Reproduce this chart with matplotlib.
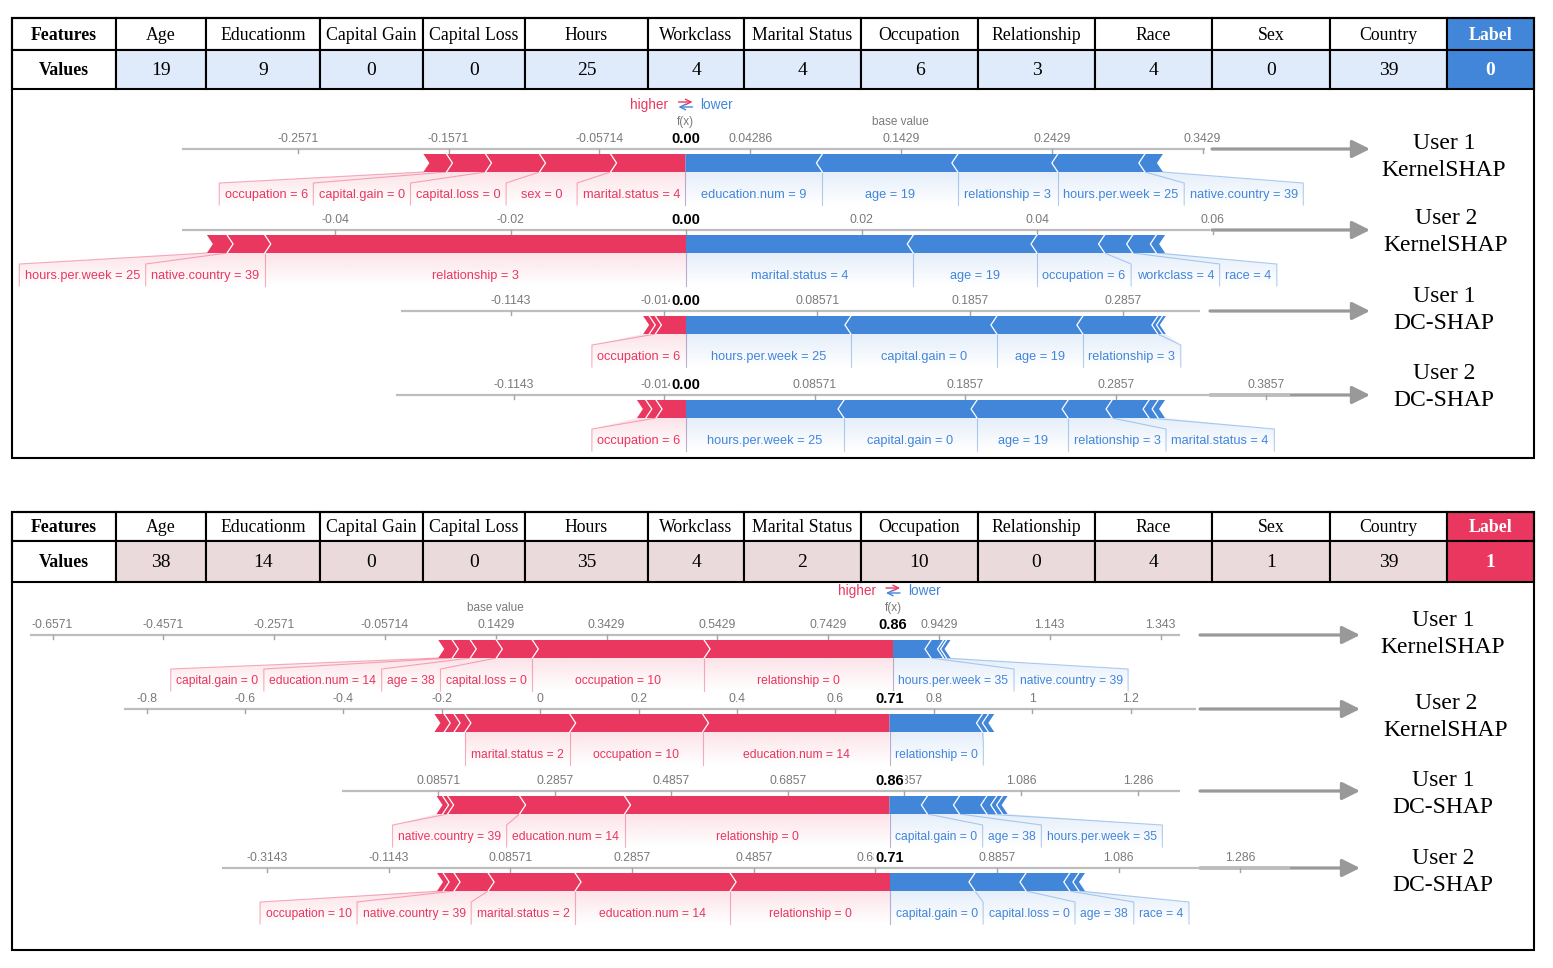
import numpy as np
import matplotlib
matplotlib.use('Agg')
import matplotlib.pyplot as plt
from matplotlib.patches import Polygon, Rectangle
from matplotlib.colors import to_rgb

W, H = 1553, 968
RED = '#e9375f'
BLUE = '#4286da'
SANS = 'Liberation Sans'
SERIF = 'Liberation Serif'

# ---------------- tables ----------------
features = ['Age', 'Educationm', 'Capital Gain', 'Capital Loss', 'Hours', 'Workclass',
            'Marital Status', 'Occupation', 'Relationship', 'Race', 'Sex', 'Country']
top_values = [19, 9, 0, 0, 25, 4, 4, 6, 3, 4, 0, 39]
top_label = 0
bottom_values = [38, 14, 0, 0, 35, 4, 2, 10, 0, 4, 1, 39]
bottom_label = 1

# ---------------- force plots ----------------
# (feature text, |shap value|), ordered from f(x) outwards; None = unlabelled sliver
a_u1_ks_fx = 0.00
a_u1_ks_red = [('marital.status = 4', 0.0497), ('sex = 0', 0.0471), ('capital.loss = 0', 0.0358),
               ('capital.gain = 0', 0.0259), ('occupation = 6', 0.0153)]
a_u1_ks_blue = [('education.num = 9', 0.0908), ('age = 19', 0.0898), ('relationship = 3', 0.0663),
                ('hours.per.week = 25', 0.0577), ('native.country = 39', 0.0120)]
a_u1_ks_ticks = ['-0.2571', '-0.1571', '-0.05714', '0.04286', '0.1429', '0.2429', '0.3429']

a_u2_ks_fx = 0.00
a_u2_ks_red = [('relationship = 3', 0.0480), ('native.country = 39', 0.0043), ('hours.per.week = 25', 0.0023)]
a_u2_ks_blue = [('marital.status = 4', 0.0259), ('age = 19', 0.0141), ('occupation = 6', 0.0077),
                ('workclass = 4', 0.0032), ('race = 4', 0.0027), (None, 0.0010)]
a_u2_ks_ticks = ['-0.04', '-0.02', '0', '0.02', '0.04', '0.06']

a_u1_dc_fx = 0.00
a_u1_dc_red = [('occupation = 6', 0.0200), (None, 0.0040), (None, 0.0040)]
a_u1_dc_blue = [('hours.per.week = 25', 0.1078), ('capital.gain = 0', 0.0954), ('age = 19', 0.0562),
                ('relationship = 3', 0.0490), (None, 0.0030), (None, 0.0022)]
a_u1_dc_ticks = ['-0.1143', '-0.01429', '0.08571', '0.1857', '0.2857']

a_u2_dc_fx = 0.00
a_u2_dc_red = [('occupation = 6', 0.0199), (None, 0.0068), (None, 0.0059)]
a_u2_dc_blue = [('hours.per.week = 25', 0.1050), ('capital.gain = 0', 0.0884), ('age = 19', 0.0605),
                ('relationship = 3', 0.0292), ('marital.status = 4', 0.0246), (None, 0.0060), (None, 0.0046)]
a_u2_dc_ticks = ['-0.1143', '-0.01429', '0.08571', '0.1857', '0.2857', '0.3857']

b_u1_ks_fx = 0.86
b_u1_ks_red = [('relationship = 0', 0.341), ('occupation = 10', 0.310), ('capital.loss = 0', 0.065),
               ('age = 38', 0.047), ('education.num = 14', 0.0325), ('capital.gain = 0', 0.0253)]
b_u1_ks_blue = [('hours.per.week = 35', 0.0686), ('native.country = 39', 0.0226), (None, 0.0054), (None, 0.0072)]
b_u1_ks_ticks = ['-0.6571', '-0.4571', '-0.2571', '-0.05714', '0.1429', '0.3429', '0.5429',
                 '0.7429', '0.9429', '1.143', '1.343']

b_u2_ks_fx = 0.71
b_u2_ks_red = [('education.num = 14', 0.380), ('occupation = 10', 0.270), ('marital.status = 2', 0.213),
               (None, 0.022), (None, 0.020), (None, 0.020)]
b_u2_ks_blue = [('relationship = 0', 0.189), (None, 0.012), (None, 0.012)]
b_u2_ks_ticks = ['-0.8', '-0.6', '-0.4', '-0.2', '0', '0.2', '0.4', '0.6', '0.8', '1', '1.2']

b_u1_dc_fx = 0.86
b_u1_dc_red = [('relationship = 0', 0.4545), ('education.num = 14', 0.180), ('native.country = 39', 0.1235),
               (None, 0.0086), (None, 0.0103)]
b_u1_dc_blue = [('capital.gain = 0', 0.065), ('age = 38', 0.055), ('hours.per.week = 35', 0.047),
                (None, 0.017), (None, 0.010), (None, 0.0086)]
b_u1_dc_ticks = ['0.08571', '0.2857', '0.4857', '0.6857', '0.8857', '1.086', '1.286']

b_u2_dc_fx = 0.71
b_u2_dc_red = [('relationship = 0', 0.263), ('education.num = 14', 0.255), ('marital.status = 2', 0.143),
               ('native.country = 39', 0.056), ('occupation = 10', 0.018), (None, 0.010)]
b_u2_dc_blue = [('capital.gain = 0', 0.1397), ('capital.loss = 0', 0.084), ('age = 38', 0.072),
                ('race = 4', 0.015), (None, 0.010)]
b_u2_dc_ticks = ['-0.3143', '-0.1143', '0.08571', '0.2857', '0.4857', '0.6857', '0.8857', '1.086', '1.286']

# layout: axis y, pixel of f(x), pixels per unit, axis line px, arrow px, caption, label size
plots = [
    dict(fx=a_u1_ks_fx, red=a_u1_ks_red, blue=a_u1_ks_blue, ticks=a_u1_ks_ticks, y=149, px=685.5, k=1508,
         line=(182, 1205), arrow=(1212, 1370), title='User 1\nKernelSHAP', tx=1444, ty=157, head=True, fs=9.2),
    dict(fx=a_u2_ks_fx, red=a_u2_ks_red, blue=a_u2_ks_blue, ticks=a_u2_ks_ticks, y=230, px=686, k=8775,
         line=(182, 1210), arrow=(1212, 1370), title='User 2\nKernelSHAP', tx=1446, ty=232, head=False, fs=9.2),
    dict(fx=a_u1_dc_fx, red=a_u1_dc_red, blue=a_u1_dc_blue, ticks=a_u1_dc_ticks, y=311, px=686, k=1530,
         line=(401, 1200), arrow=(1210, 1370), title='User 1\nDC-SHAP', tx=1444, ty=310, head=False, fs=9.2),
    dict(fx=a_u2_dc_fx, red=a_u2_dc_red, blue=a_u2_dc_blue, ticks=a_u2_dc_ticks, y=395, px=686, k=1505,
         line=(396, 1290), arrow=(1210, 1370), title='User 2\nDC-SHAP', tx=1444, ty=387, head=False, fs=9.2),
    dict(fx=b_u1_ks_fx, red=b_u1_ks_red, blue=b_u1_ks_blue, ticks=b_u1_ks_ticks, y=635, px=893, k=554,
         line=(30, 1180), arrow=(1200, 1360), title='User 1\nKernelSHAP', tx=1443, ty=634, head=True, fs=8.7),
    dict(fx=b_u2_ks_fx, red=b_u2_ks_red, blue=b_u2_ks_blue, ticks=b_u2_ks_ticks, y=709, px=889.5, k=492,
         line=(124, 1196), arrow=(1200, 1360), title='User 2\nKernelSHAP', tx=1446, ty=717, head=False, fs=8.7),
    dict(fx=b_u1_dc_fx, red=b_u1_dc_red, blue=b_u1_dc_blue, ticks=b_u1_dc_ticks, y=791, px=889.5, k=583,
         line=(342, 1180), arrow=(1200, 1360), title='User 1\nDC-SHAP', tx=1443, ty=794, head=False, fs=8.7),
    dict(fx=b_u2_dc_fx, red=b_u2_dc_red, blue=b_u2_dc_blue, ticks=b_u2_dc_ticks, y=868, px=890, k=608,
         line=(222, 1290), arrow=(1200, 1360), title='User 2\nDC-SHAP', tx=1443, ty=872, head=False, fs=8.7),
]

col_edges = [12, 116, 206, 320, 423, 525, 648, 744, 861, 978, 1095, 1212, 1330, 1447, 1534]

fig = plt.figure(figsize=(W / 100, H / 100), dpi=100)
renderer = fig.canvas.get_renderer()
ov = fig.add_axes([0, 0, 1, 1])
ov.set_xlim(0, W)
ov.set_ylim(H, 0)
ov.axis('off')


def text_w(ax, s, size, weight='normal'):
    t = ax.text(0, 0, s, fontsize=size, family=SANS, weight=weight)
    w = t.get_window_extent(renderer).width
    t.remove()
    return w


def grad_patch(ax, verts, color, ytop, ybot, xa, xb, a0=0.14):
    poly = Polygon(verts, closed=True, fc='none', ec='none')
    ax.add_patch(poly)
    n = 60
    img = np.zeros((n, 2, 4))
    img[..., :3] = to_rgb(color)
    img[..., 3] = np.linspace(a0, 0, n)[:, None]
    im = ax.imshow(img, extent=(min(xa, xb), max(xa, xb), ybot, ytop), origin='upper',
                   aspect='auto', interpolation='bilinear', zorder=1)
    im.set_clip_path(poly)


def draw_side(ax, fx, feats, s, y, k, color, fs):
    y0, y1 = y + 5, y + 23
    ym = (y0 + y1) / 2
    t = 6 / k
    cum = 0
    spans = []
    for i, (name, v) in enumerate(feats):
        near, far = fx + s * cum, fx + s * (cum + v)
        tip = 0 if i == 0 else t
        ax.add_patch(Polygon([(far, y0), (near, y0), (near - s * tip, ym), (near, y1),
                              (far, y1), (far - s * t, ym)], closed=True, fc=color, ec='none', zorder=2))
        if i > 0:
            ax.plot([near, near - s * t, near], [y0, ym, y1], color='white', lw=0.9, zorder=3)
        spans.append((name, v, far))
        cum += v
    total_far = fx + s * cum

    prev = fx
    ax.plot([fx, fx], [y1, y1 + 33], color=color, alpha=0.3, lw=0.8, zorder=2)
    for name, v, far in spans:
        if name is None:
            continue
        width = max(v, (text_w(ax, name, fs) + 11) / k)
        reg = prev + s * width
        ax.plot([far, reg, reg], [y1, y1 + 11, y1 + 33], color=color, alpha=0.4, lw=0.8, zorder=2)
        ax.text(prev + s * width / 2, y1 + 23, name, color=color, fontsize=fs, family=SANS,
                ha='center', va='center', zorder=4)
        prev = reg
    verts = [(fx, y1), (total_far, y1), (prev, y1 + 11), (prev, y1 + 33), (fx, y1 + 33)]
    grad_patch(ax, verts, color, y1, y1 + 33, fx, prev)


def force_plot(p):
    ax = fig.add_axes([0, 0, 1, 1])
    ax.axis('off')
    ax.set_autoscale_on(False)
    fx, k, y = p['fx'], p['k'], p['y']

    def v(px):
        return fx + (px - p['px']) / k

    ax.set_xlim(v(0), v(W))
    ax.set_ylim(H, 0)
    l0, l1 = p['line']
    ax.plot([v(l0), v(l1)], [y, y], color='#bdbdbd', lw=1.6, zorder=1, solid_capstyle='butt')
    for s in p['ticks']:
        tv = float(s)
        ax.plot([tv, tv], [y, y + 4], color='#a5a5a5', lw=1, zorder=1)
        ax.text(tv, y - 10, s, color='#7a7a7a', fontsize=8.8, family=SANS, ha='center', va='center', zorder=3)
    ax.text(fx, y - 10, f'{fx:.2f}', color='black', fontsize=10.5, family=SANS, weight='bold',
            ha='center', va='center', zorder=5,
            bbox=dict(boxstyle='square,pad=0.1', fc='white', ec='none'))
    draw_side(ax, fx, p['red'], -1, y, k, RED, p['fs'])
    draw_side(ax, fx, p['blue'], 1, y, k, BLUE, p['fs'])
    if p['head']:
        base = fx - sum(x for _, x in p['red']) + sum(x for _, x in p['blue'])
        ax.text(fx, y - 27, 'f(x)', color='#7a7a7a', fontsize=8.5, family=SANS, ha='center', va='center')
        ax.text(base, y - 27, 'base value', color='#7a7a7a', fontsize=8.5, family=SANS,
                ha='center', va='center')
        ax.text(v(p['px'] - 17), y - 44, 'higher', color=RED, fontsize=9.8, family=SANS,
                ha='right', va='center')
        ax.text(v(p['px'] + 15), y - 44, 'lower', color=BLUE, fontsize=9.8, family=SANS,
                ha='left', va='center')
        ax.annotate('', xy=(v(p['px'] + 7), y - 47), xytext=(v(p['px'] - 7), y - 47),
                    arrowprops=dict(arrowstyle='->', color=RED, lw=1, shrinkA=0, shrinkB=0))
        ax.annotate('', xy=(v(p['px'] - 7), y - 42), xytext=(v(p['px'] + 7), y - 42),
                    arrowprops=dict(arrowstyle='->', color=BLUE, lw=1, shrinkA=0, shrinkB=0))
    ax.set_xlim(v(0), v(W))
    ax.set_ylim(H, 0)


def draw_table(rows, values, label, light, dark, box_bottom):
    r0, r1, r2 = rows
    for j in range(len(col_edges) - 1):
        xa, xb = col_edges[j], col_edges[j + 1]
        xc = (xa + xb) / 2
        if j == 0:
            hdr, val, f0, f1, c, wt = 'Features', 'Values', 'white', 'white', 'black', 'bold'
        elif j <= len(features):
            hdr, val, f0, f1, c, wt = features[j - 1], str(values[j - 1]), 'white', light, 'black', 'normal'
        else:
            hdr, val, f0, f1, c, wt = 'Label', str(label), dark, dark, 'white', 'bold'
        ov.add_patch(Rectangle((xa, r0), xb - xa, r1 - r0, fc=f0, ec='black', lw=1.5, zorder=1))
        ov.add_patch(Rectangle((xa, r1), xb - xa, r2 - r1, fc=f1, ec='black', lw=1.5, zorder=1))
        ov.text(xc, (r0 + r1) / 2 + 1, hdr, color=c, fontsize=12.8, family=SERIF, weight=wt,
                ha='center', va='center', zorder=2)
        ov.text(xc, (r1 + r2) / 2 + 1, val, color=c, fontsize=14 if j else 12.8, family=SERIF, weight=wt,
                ha='center', va='center', zorder=2)
    ov.add_patch(Rectangle((col_edges[0], r0), col_edges[-1] - col_edges[0], box_bottom - r0,
                           fc='none', ec='black', lw=1.5, zorder=2))


draw_table((18, 50, 89), top_values, top_label, '#dfeafb', BLUE, 458)
draw_table((512, 541, 582), bottom_values, bottom_label, '#ebdadb', RED, 950)

for p in plots:
    force_plot(p)
    ov.annotate('', xy=(p['arrow'][1], p['y']), xytext=(p['arrow'][0], p['y']),
                arrowprops=dict(arrowstyle='-|>,head_length=0.9,head_width=0.45', color='#999999',
                                lw=2.3, shrinkA=0, shrinkB=0, mutation_scale=12), zorder=6)
    ov.text(p['tx'], p['ty'], p['title'], fontsize=17, family=SERIF, ha='center', va='center',
            linespacing=1.35)

fig.savefig('out.png', dpi=100)
